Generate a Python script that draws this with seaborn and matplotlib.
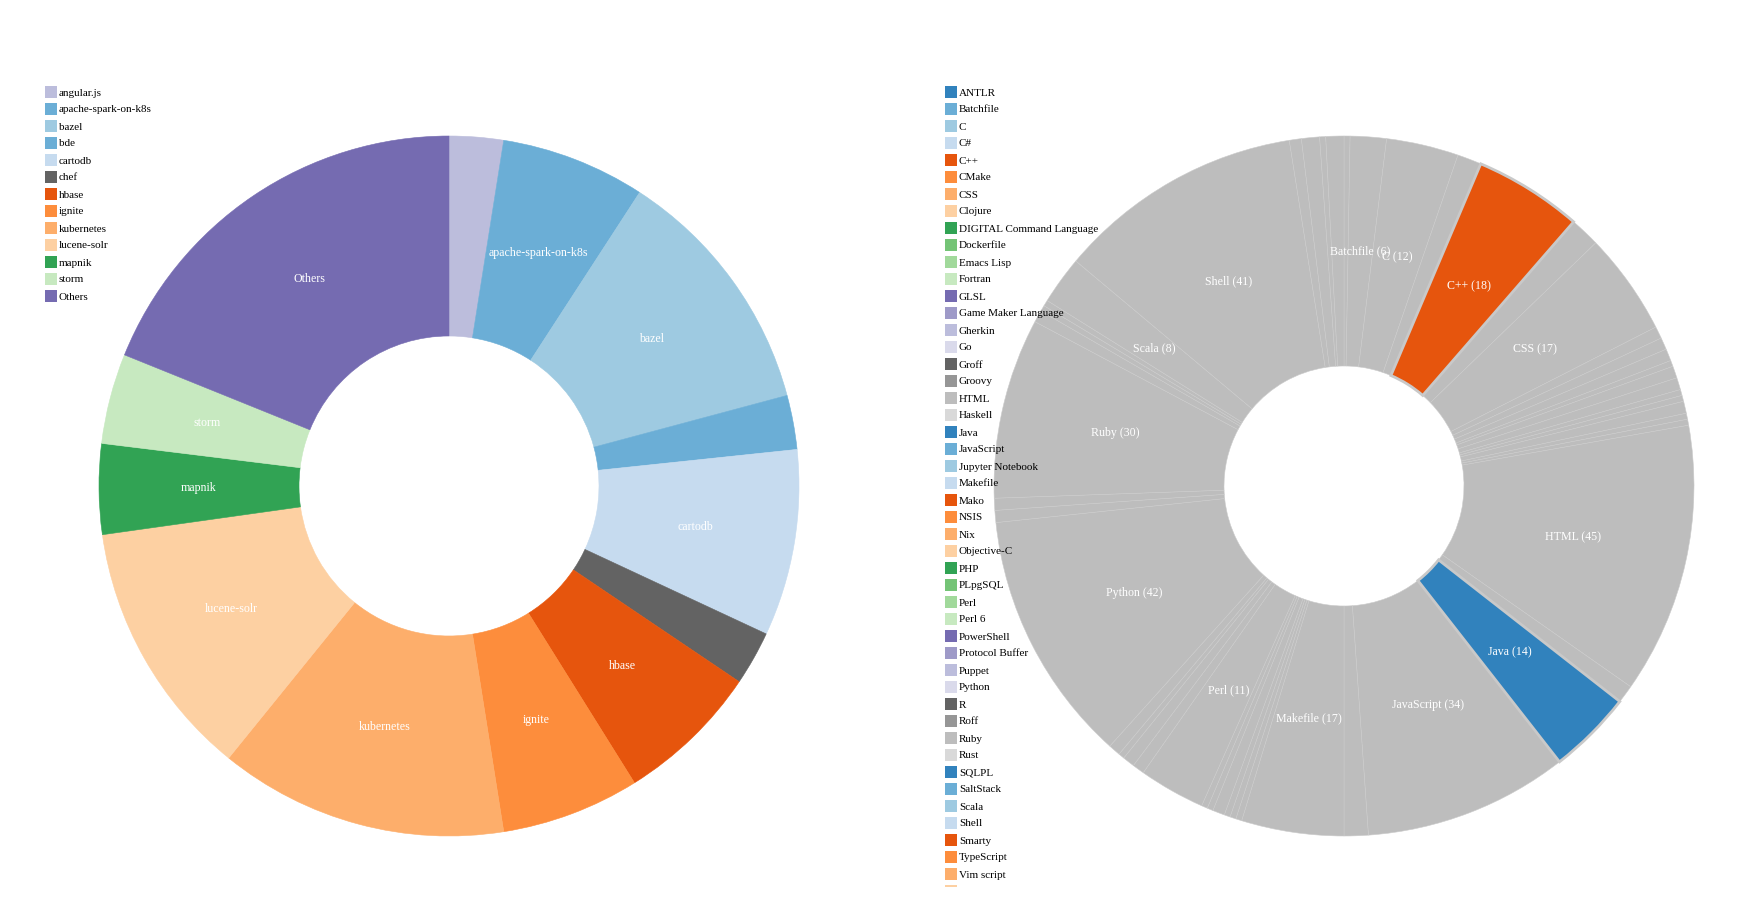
import numpy as np
import matplotlib.pyplot as plt
from matplotlib.patches import Rectangle
import seaborn as sns

# ---------------- data: repositories (left donut) ----------------
repos = ["angular.js", "apache-spark-on-k8s", "bazel", "bde", "cartodb", "chef",
         "hbase", "ignite", "kubernetes", "lucene-solr", "mapnik", "storm", "Others"]
repo_values = [9, 24, 42, 9, 31, 9, 24, 23, 48, 43, 15, 15, 68]
repo_color_idx = [14, 1, 2, 1, 3, 16, 4, 5, 6, 7, 8, 11, 12]

# ---------------- data: languages (right donut) ----------------
languages = ["ANTLR", "Batchfile", "C", "C#", "C++", "CMake", "CSS", "Clojure",
             "DIGITAL Command Language", "Dockerfile", "Emacs Lisp", "Fortran", "GLSL",
             "Game Maker Language", "Gherkin", "Go", "Groff", "Groovy", "HTML", "Haskell",
             "Java", "JavaScript", "Jupyter Notebook", "Makefile", "Mako", "NSIS", "Nix",
             "Objective-C", "PHP", "PLpgSQL", "Perl", "Perl 6", "PowerShell",
             "Protocol Buffer", "Puppet", "Python", "R", "Roff", "Ruby", "Rust", "SQLPL",
             "SaltStack", "Scala", "Shell", "Smarty", "TypeScript", "Vim script", "XSLT"]
lang_values = [1, 6, 12, 4, 18, 5, 17, 2,
               2, 2, 1, 2, 2,
               1, 1, 2, 1, 1, 45, 3,
               14, 34, 4, 17, 1, 1, 1,
               2, 1, 1, 11, 2, 2,
               1, 2, 42, 2, 2, 30, 2, 1,
               1, 8, 41, 2, 3, 1, 3]
highlighted = ["C++", "Java"]

W, H = 1743, 902
GRAY = "#bdbdbd"

sns.set_theme(style="white")
plt.rcParams["font.family"] = ["Liberation Serif", "DejaVu Serif"]
pal = sns.color_palette("tab20c", 20)

fig = plt.figure(figsize=(W / 100, H / 100), dpi=100)
fig.patch.set_facecolor("white")


def px_axes(cx, cy, r):
    ax = fig.add_axes([(cx - r) / W, 1 - (cy + r) / H, 2 * r / W, 2 * r / H])
    ax.set_xlim(-1, 1)
    ax.set_ylim(-1, 1)
    ax.axis("off")
    return ax


def donut(ax, values, colors, inner, labels, min_label, fs):
    wedges, _ = ax.pie(values, colors=colors, startangle=90, counterclock=False,
                       radius=1, wedgeprops=dict(width=1 - inner))
    ax.set_xlim(-1, 1)
    ax.set_ylim(-1, 1)
    rmid = (1 + inner) / 2
    for w, lab, v in zip(wedges, labels, values):
        if v < min_label:
            continue
        th = np.deg2rad((w.theta1 + w.theta2) / 2)
        ax.text(rmid * np.cos(th), rmid * np.sin(th), lab, color="white",
                fontsize=fs, ha="center", va="center", zorder=5)
    return wedges


# ---- left donut ----
repo_colors = [pal[i] for i in repo_color_idx]
ax1 = px_axes(449, 486, 350)
w1 = donut(ax1, repo_values, repo_colors, 150 / 350, repos, 12, 8.6)
for w in w1:
    w.set_edgecolor(w.get_facecolor())
    w.set_linewidth(0.4)

# ---- right donut ----
lang_colors = [pal[i % 20] if n in highlighted else GRAY for i, n in enumerate(languages)]
lang_labels = [f"{n} ({v})" for n, v in zip(languages, lang_values)]
ax2 = px_axes(1344, 486, 350)
w2 = donut(ax2, lang_values, lang_colors, 120 / 350, lang_labels, 6, 8.6)
for w, n in zip(w2, languages):
    if n in highlighted:
        w.set_edgecolor("#c9c9c9")
        w.set_linewidth(2.0)
        w.set_zorder(3)
    else:
        w.set_edgecolor("#cbcbcb")
        w.set_linewidth(0.4)

# ---- legends (pixel-coordinate overlay, clipped like the svg) ----
leg = fig.add_axes([0, (H - 887) / H, 1, 887 / H])
leg.set_xlim(0, W)
leg.set_ylim(887, 0)
leg.axis("off")
leg.patch.set_alpha(0)


def draw_legend(x0, names, colors):
    for k, (n, c) in enumerate(zip(names, colors)):
        y = 86 + 17 * k
        leg.add_patch(Rectangle((x0, y), 12, 12, facecolor=c, edgecolor="none", clip_on=True))
        leg.text(x0 + 14, y + 7, n, fontsize=8.0, color="black", ha="left",
                 va="center", clip_on=True)


draw_legend(45, repos, repo_colors)
draw_legend(945, languages, [pal[i % 20] for i in range(len(languages))])

fig.savefig("out.png", dpi=100, facecolor="white")
